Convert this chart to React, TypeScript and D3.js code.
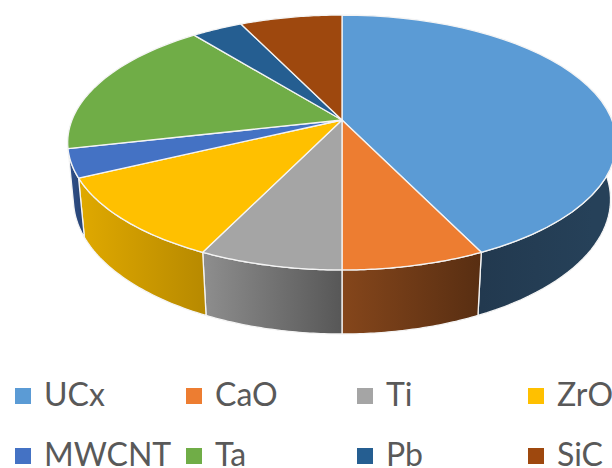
import React from "react";
import * as d3 from "d3";

// Share of each material in the target inventory
const categories = ["UCx", "CaO", "Ti", "ZrO", "MWCNT", "Ta", "Pb", "SiC"];
const values = [12, 2, 2, 3, 1, 5, 1, 2];
const colors = ["#5B9BD5", "#ED7D31", "#A5A5A5", "#FFC000", "#4472C4", "#70AD47", "#255E91", "#9E480E"];
// Brightness of each wall at its left and right edge; null walls face away from the viewer
const wallShades: ([number, number] | null)[] = [
  [0.37, 0.42],
  [0.56, 0.37],
  [0.86, 0.53],
  [0.88, 0.72],
  [0.72, 0.62],
  null,
  null,
  null,
];
const wallLimits: [number, number] = [Math.PI * 0.42, Math.PI * 1.6];
const legendXs = [15, 186, 357, 528];
const legendRows = [388, 448];

// Perspective parameters of the tilted disc
const cx = 342;
const cy = 120;
const A = 270;
const B = 123.5;
const k = 0.1765;
const drop = 57.2;
const dropW = 0.0208;

// Projects an angle (clockwise from 12 o'clock) onto the top or bottom rim
const project = (a: number, depth: number): [number, number] => {
  const X = Math.sin(a);
  const Y = -Math.cos(a);
  const w = 1 - k * Y + dropW * depth;
  return [cx + (A * X) / w, cy + (B * Y + drop * depth) / w];
};

const line = d3.line();
const sample = (a0: number, a1: number) =>
  d3.range(0, 41).map((i) => a0 + ((a1 - a0) * i) / 40);

export default function App() {
  const arcs = d3
    .pie<number>()
    .sort(null)
    .startAngle(0)
    .endAngle(Math.PI * 2)(values);

  const walls = arcs
    .map((s, i) => ({ s, i, shade: wallShades[i] }))
    .filter((d) => d.shade);

  return (
    <svg
      width={612}
      height={468}
      style={{ position: "absolute", left: 0, top: 0, background: "#fff" }}
      fontFamily="Lato, 'Open Sans', sans-serif"
    >
      <defs>
        {walls.map(({ s, i, shade }) => {
          const a0 = Math.max(s.startAngle, wallLimits[0]);
          const a1 = Math.min(s.endAngle, wallLimits[1]);
          const xs = [project(a0, 0)[0], project(a1, 0)[0]];
          const x1 = Math.min(...xs);
          const x2 = Math.max(...xs);
          const tone = (f: number) => {
            const c = d3.rgb(colors[i]);
            return d3.rgb(c.r * f, c.g * f, c.b * f).formatHex();
          };
          return (
            <linearGradient key={i} id={`wall-${i}`} gradientUnits="userSpaceOnUse" x1={x1} x2={x2} y1={0} y2={0}>
              <stop offset="0" stopColor={tone(shade![0])} />
              <stop offset="1" stopColor={tone(shade![1])} />
            </linearGradient>
          );
        })}
      </defs>

      {/* Outer walls of the front-facing slices */}
      {walls.map(({ s, i }) => {
        const angles = sample(Math.max(s.startAngle, wallLimits[0]), Math.min(s.endAngle, wallLimits[1]));
        const outline = [
          ...angles.map((a) => project(a, 0)),
          ...angles.slice().reverse().map((a) => project(a, 1)),
        ];
        return (
          <path
            key={categories[i]}
            d={line(outline) + "Z"}
            fill={`url(#wall-${i})`}
            stroke="#f4f4f4"
            strokeWidth={1.3}
          />
        );
      })}

      {/* Top face */}
      {arcs.map((s, i) => {
        const rim = sample(s.startAngle, s.endAngle).map((a) => project(a, 0));
        return (
          <path
            key={categories[i]}
            d={line([[cx, cy], ...rim]) + "Z"}
            fill={colors[i]}
            stroke="#f4f4f4"
            strokeWidth={1.3}
            strokeLinejoin="round"
          />
        );
      })}

      {/* Legend */}
      {categories.map((name, i) => {
        const x = legendXs[i % 4];
        const y = legendRows[Math.floor(i / 4)];
        return (
          <g key={name}>
            <rect x={x} y={y} width={16} height={16} fill={colors[i]} />
            <text x={x + 29} y={y + 18} fontSize={32} fill="#595959">
              {name}
            </text>
          </g>
        );
      })}
    </svg>
  );
}
